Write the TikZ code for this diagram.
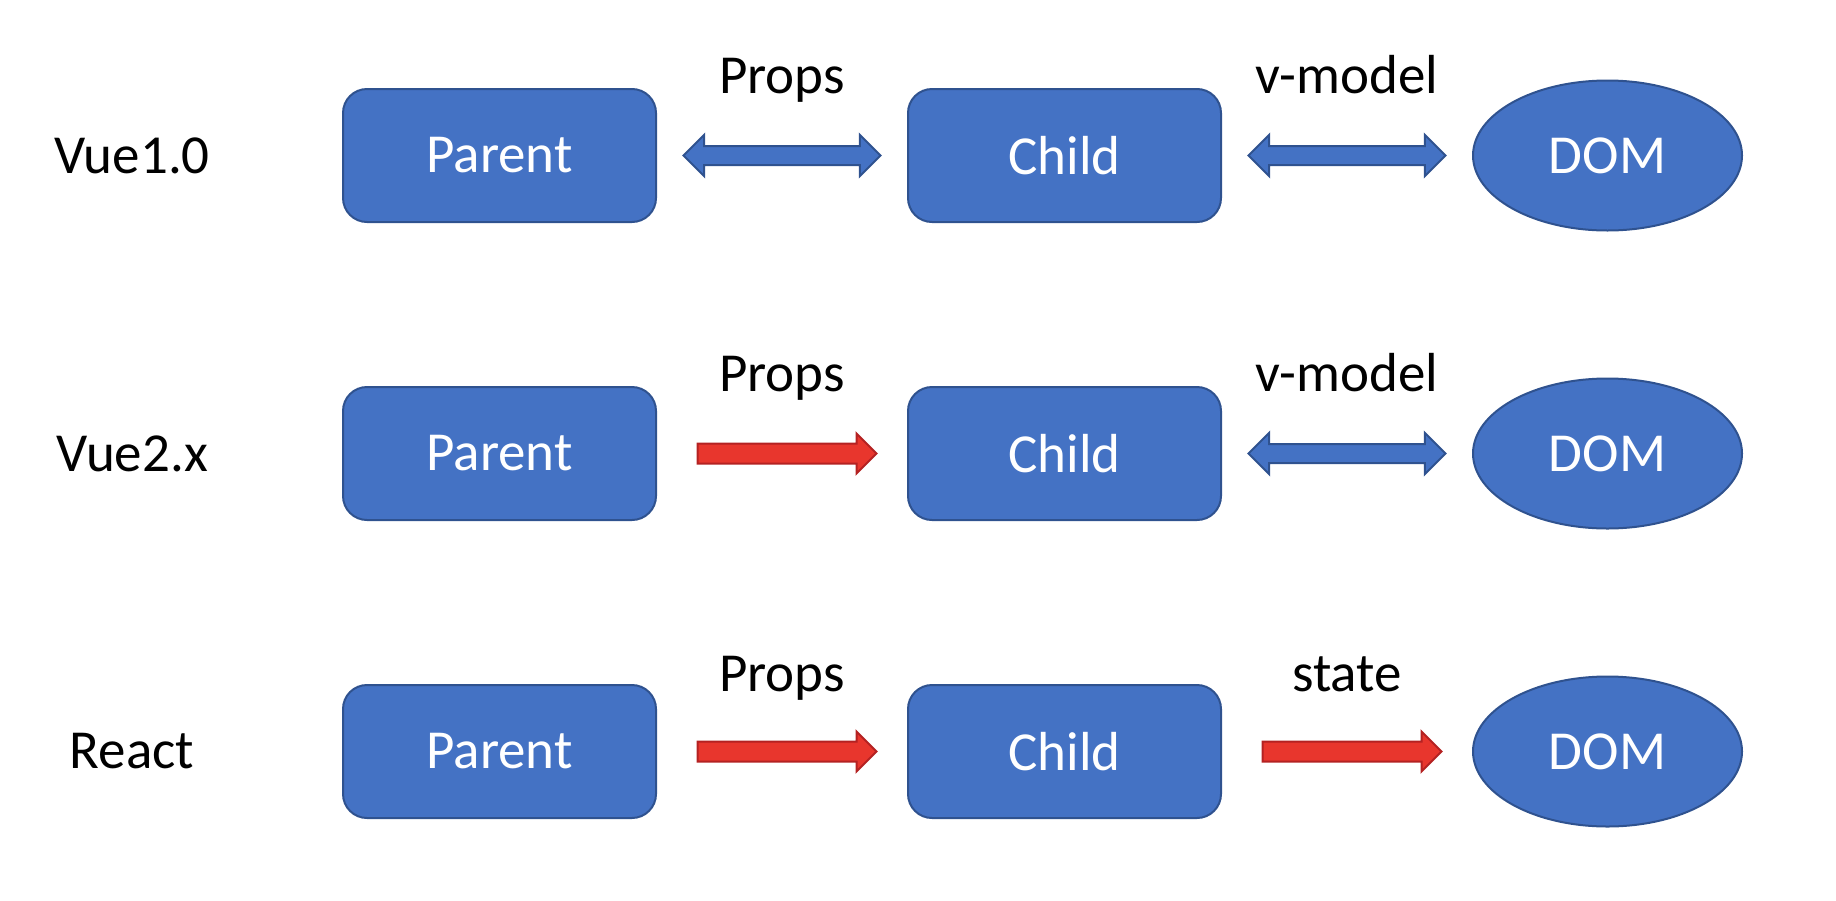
\documentclass[tikz,border=0pt]{standalone}
\usepackage{fontspec}
\setmainfont{Carlito}
\usetikzlibrary{shapes.geometric, shapes.arrows, positioning}
\definecolor{boxblue}{HTML}{4472C4}
\definecolor{boxline}{HTML}{2F528F}
\definecolor{arrowred}{HTML}{E8362D}
\definecolor{redline}{HTML}{B42222}

\begin{document}
\begin{tikzpicture}[
    x=0.5pt, y=-0.5pt,
    every node/.style={
        outer sep=0pt,
        font=\fontsize{27.5pt}{33pt}\selectfont
    },
    box/.style={draw=boxline, fill=boxblue, line width=1pt, rounded corners=12pt,
        minimum width=156.5pt, minimum height=66.5pt, text=white},
    dom/.style={ellipse, draw=boxline, fill=boxblue, line width=1pt,
        minimum width=134.5pt, minimum height=75pt, text=white},
    tag/.style={text=black},
    lbl/.style={anchor=base, text=black},
    twoway/.style={double arrow, draw=boxline, fill=boxblue, line width=1pt,
        inner sep=4.25pt, double arrow head extend=5.6pt, minimum height=98.5pt},
    oneway/.style={single arrow, draw=redline, fill=arrowred, line width=1pt,
        inner sep=4.5pt, single arrow head extend=5pt, minimum height=89.5pt}
]
\useasboundingbox (0,0) rectangle (1836,900);

% Vue1.0
\node[box] (p1) at (499.5,155.5) {Parent};
\node[box, right=126pt of p1] (c1) {Child};
\node[dom, right=126pt of c1] (d1) {DOM};
\node[tag] (t1) at ([xshift=-105.5pt]p1.west) {Vue1.0};
\path (p1.east) -- (c1.west) node[midway, twoway] (pc1) {};
\path (c1.east) -- (d1.west) node[midway, twoway] (cd1) {};
\node[lbl] at ([yshift=31pt]pc1.center) {Props};
\node[lbl] at ([yshift=31pt]cd1.center) {v-model};

% Vue2.x
\node[box, below=82.5pt of p1] (p2) {Parent};
\node[box, right=126pt of p2] (c2) {Child};
\node[dom, right=126pt of c2] (d2) {DOM};
\node[tag] (t2) at ([xshift=-105.5pt]p2.west) {Vue2.x};
\path (p2.east) -- (c2.west) node[midway, oneway] (pc2) {};
\path (c2.east) -- (d2.west) node[midway, twoway] (cd2) {};
\node[lbl] at ([yshift=31pt]pc2.center) {Props};
\node[lbl] at ([yshift=31pt]cd2.center) {v-model};

% React
\node[box, below=82.5pt of p2] (p3) {Parent};
\node[box, right=126pt of p3] (c3) {Child};
\node[dom, right=126pt of c3] (d3) {DOM};
\node[tag] (t3) at ([xshift=-105.5pt]p3.west) {React};
\path (p3.east) -- (c3.west) node[midway, oneway] (pc3) {};
\path (c3.east) -- (d3.west) node[midway, oneway] (cd3) {};
\node[lbl] at ([yshift=30pt]pc3.center) {Props};
\node[lbl] at ([yshift=30pt]cd3.center) {state};

\end{tikzpicture}
\end{document}
